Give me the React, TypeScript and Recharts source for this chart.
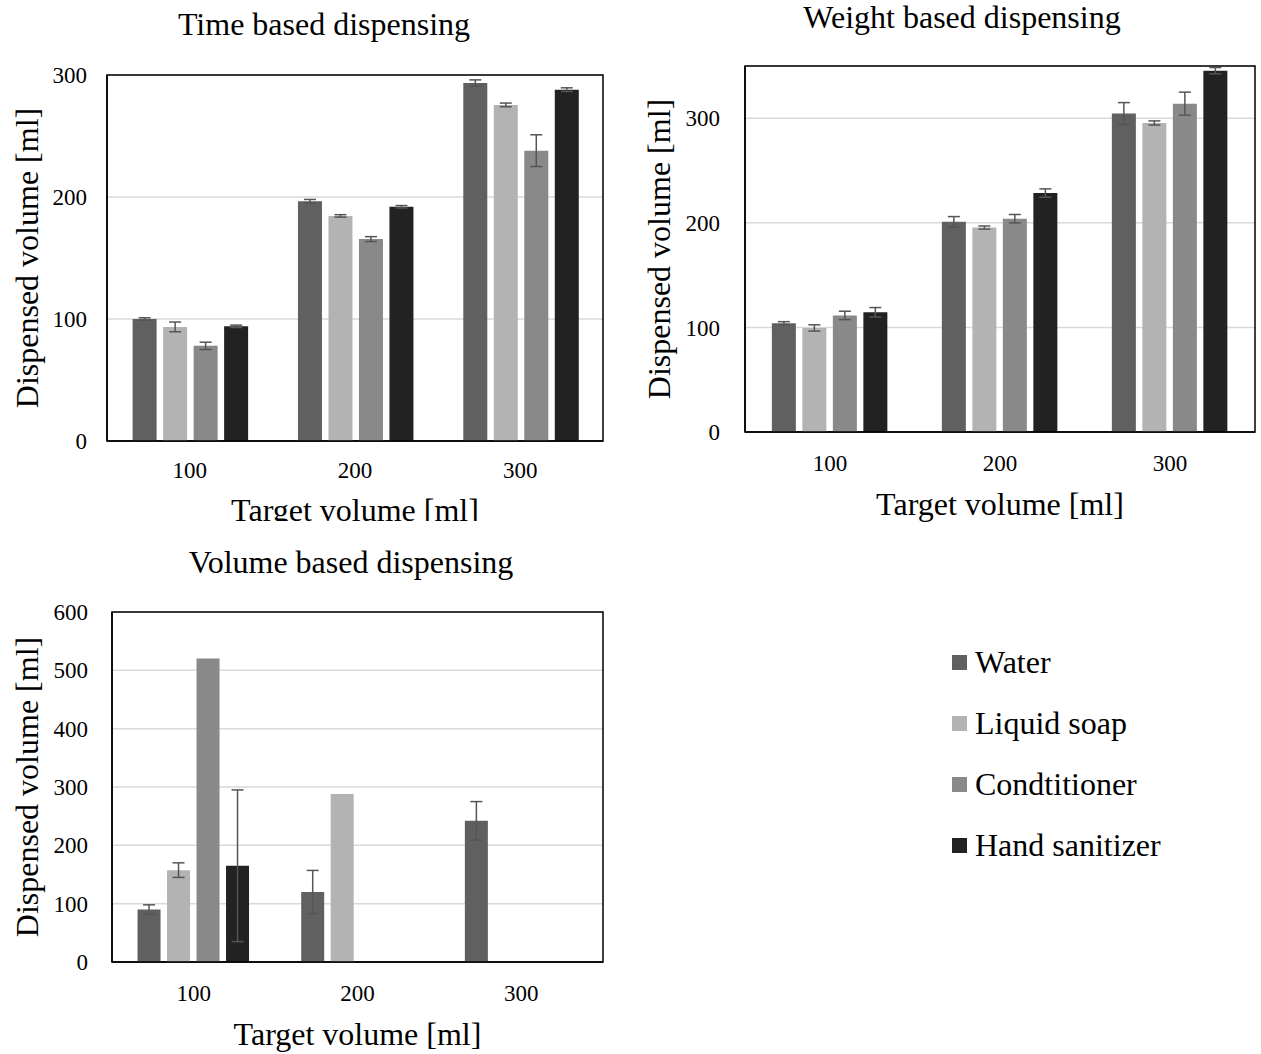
import { Bar, BarChart, CartesianGrid, ErrorBar, Legend, ReferenceArea, XAxis, YAxis } from "recharts";

const FONT = "'Liberation Serif', 'Times New Roman', serif";

const targets = ["100", "200", "300"];
const seriesNames = ["Water", "Liquid soap", "Condtitioner", "Hand sanitizer"];
const seriesColors = ["#606060", "#b3b3b3", "#898989", "#222222"];

// time based dispensing (mean, error)
const timeWater = [100, 196.5, 293.5];
const timeWaterErr = [1, 1.5, 2.5];
const timeSoap = [93.5, 184.5, 275.5];
const timeSoapErr = [4, 1, 1.5];
const timeCond = [78, 165.5, 238];
const timeCondErr = [3, 2, 13];
const timeSanit = [94, 192, 288];
const timeSanitErr = [1, 1, 1.5];

// weight based dispensing
const weightWater = [104, 201, 304.5];
const weightWaterErr = [1.5, 5, 10.5];
const weightSoap = [99.5, 195.5, 295.5];
const weightSoapErr = [3, 1.5, 2];
const weightCond = [111.5, 204, 314];
const weightCondErr = [4, 4, 11];
const weightSanit = [114.5, 228.5, 345.5];
const weightSanitErr = [4.5, 4, 3];

// volume based dispensing (missing bars are null)
const volWater = [90, 120, 242];
const volWaterErr = [8, 37, 33];
const volSoap = [157.5, 288, null];
const volSoapErr = [12.5, null, null];
const volCond = [520.5, null, null];
const volCondErr = [null, null, null];
const volSanit = [165, null, null];
const volSanitErr = [130, null, null];

const ticks300 = [0, 100, 200, 300];
const ticks600 = [0, 100, 200, 300, 400, 500, 600];

type Num = number | null;

function buildRows(values: Num[][], errors: Num[][]) {
  return targets.map((t, i) => {
    const row: Record<string, string | Num> = { target: t };
    values.forEach((v, s) => {
      row[`s${s}`] = v[i];
      row[`e${s}`] = errors[s][i];
    });
    return row;
  });
}

const timeRows = buildRows(
  [timeWater, timeSoap, timeCond, timeSanit],
  [timeWaterErr, timeSoapErr, timeCondErr, timeSanitErr]
);
const weightRows = buildRows(
  [weightWater, weightSoap, weightCond, weightSanit],
  [weightWaterErr, weightSoapErr, weightCondErr, weightSanitErr]
);
const volRows = buildRows(
  [volWater, volSoap, volCond, volSanit],
  [volWaterErr, volSoapErr, volCondErr, volSanitErr]
);

function LegendContent({ payload }: any) {
  return (
    <div style={{ fontFamily: FONT, fontSize: 32, color: "#000" }}>
      {(payload ?? []).map((p: any) => (
        <div key={p.value} style={{ display: "flex", alignItems: "center", height: 61 }}>
          <span style={{ width: 15, height: 15, background: p.color, marginRight: 8 }} />
          <span>{p.value}</span>
        </div>
      ))}
    </div>
  );
}

interface PanelProps {
  rows: Record<string, string | Num>[];
  width: number;
  height: number;
  top: number;
  right: number;
  yWidth: number;
  plotHeight: number;
  yMax: number;
  yTicks: number[];
  yTickGap: number;
  xTickGap: number;
  yLabelX: number;
  xLabelGap: number;
  categoryGap: string;
  legend?: boolean;
}

function Panel(p: PanelProps) {
  const axisStyle = { stroke: "#000", strokeWidth: 1.5 };
  const tickStyle = { fill: "#000", fontSize: 23, fontFamily: FONT };
  const labelStyle = { fill: "#000", fontSize: 32, fontFamily: FONT };
  return (
    <BarChart
      width={p.width}
      height={p.height}
      data={p.rows}
      margin={{ top: p.top, right: p.right, left: 0, bottom: 0 }}
      barCategoryGap={p.categoryGap}
      barGap={6.5}
    >
      <CartesianGrid vertical={false} stroke="#d9d9d9" strokeWidth={1.5} />
      <XAxis
        dataKey="target"
        height={p.height - p.top - p.plotHeight}
        axisLine={axisStyle}
        tickLine={false}
        tickSize={0}
        tickMargin={p.xTickGap}
        tick={tickStyle}
        label={{
          value: "Target volume [ml]",
          position: "insideTop",
          offset: p.xLabelGap,
          style: labelStyle,
        }}
      />
      <YAxis
        width={p.yWidth}
        domain={[0, p.yMax]}
        ticks={p.yTicks}
        interval={0}
        axisLine={axisStyle}
        tickLine={false}
        tickSize={0}
        tickMargin={p.yTickGap}
        tick={tickStyle}
        label={{
          value: "Dispensed volume [ml]",
          angle: -90,
          position: "insideLeft",
          offset: p.yLabelX,
          style: { ...labelStyle, textAnchor: "middle" },
        }}
      />
      {seriesNames.map((name, s) => (
        <Bar key={name} dataKey={`s${s}`} name={name} fill={seriesColors[s]} isAnimationActive={false}>
          <ErrorBar dataKey={`e${s}`} width={6} strokeWidth={1.5} stroke="#555555" direction="y" isAnimationActive={false} />
        </Bar>
      ))}
      {/* frame around the plot area */}
      <ReferenceArea y1={0} y2={p.yMax} fill="none" stroke="#000" strokeWidth={1.5} />
      {p.legend && (
        <Legend
          layout="vertical"
          align="center"
          verticalAlign="middle"
          itemSorter="dataKey"
          wrapperStyle={{ left: 952, top: 92, width: 300 }}
          content={<LegendContent />}
        />
      )}
    </BarChart>
  );
}

const titleStyle = {
  position: "absolute" as const,
  fontFamily: FONT,
  fontSize: 32,
  lineHeight: "32px",
  textAlign: "center" as const,
  color: "#000",
  whiteSpace: "nowrap" as const,
};

export default function App() {
  return (
    <div style={{ position: "absolute", left: 0, top: 0, width: 1261, height: 1054, background: "#fff" }}>
      <div style={{ ...titleStyle, left: 0, top: 8, width: 648 }}>Time based dispensing</div>
      <div style={{ ...titleStyle, left: 662, top: 1, width: 600 }}>Weight based dispensing</div>
      <div style={{ ...titleStyle, left: 0, top: 546, width: 702 }}>Volume based dispensing</div>

      <div style={{ position: "absolute", left: 0, top: 0, width: 620, height: 521, overflow: "hidden" }}>
        <Panel
          rows={timeRows}
          width={620}
          height={560}
          top={75}
          right={17}
          yWidth={107}
          plotHeight={366}
          yMax={300}
          yTicks={ticks300}
          yTickGap={20}
          xTickGap={21}
          yLabelX={27}
          xLabelGap={57}
          categoryGap="15.5%"
        />
      </div>

      <div style={{ position: "absolute", left: 630, top: 0, width: 631, height: 540 }}>
        <Panel
          rows={weightRows}
          width={631}
          height={540}
          top={66}
          right={6}
          yWidth={115}
          plotHeight={366}
          yMax={350}
          yTicks={ticks300}
          yTickGap={25}
          xTickGap={23}
          yLabelX={29}
          xLabelGap={60}
          categoryGap="15.8%"
        />
      </div>

      <div style={{ position: "absolute", left: 0, top: 540, width: 620, height: 514 }}>
        <Panel
          rows={volRows}
          width={620}
          height={514}
          top={72}
          right={17}
          yWidth={112}
          plotHeight={350}
          yMax={600}
          yTicks={ticks600}
          yTickGap={24}
          xTickGap={23}
          yLabelX={27}
          xLabelGap={60}
          categoryGap="15.6%"
          legend
        />
      </div>
    </div>
  );
}
